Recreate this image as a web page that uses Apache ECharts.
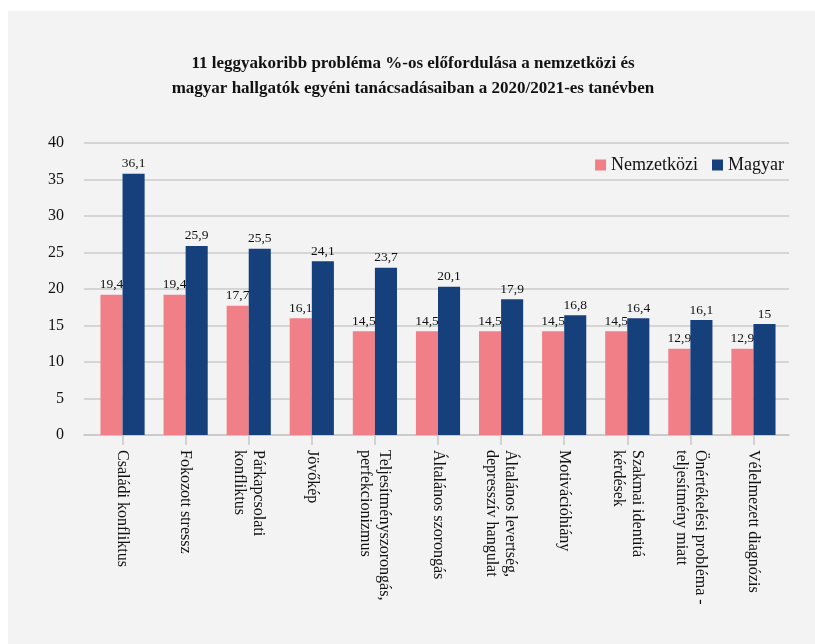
<!DOCTYPE html>
<html>
<head>
<meta charset="utf-8">
<script src="https://cdn.jsdelivr.net/npm/echarts@6/dist/echarts.min.js"></script>
<style>
html,body{margin:0;padding:0;background:#fff;}
#c{width:815px;height:644px;}
</style>
</head>
<body>
<div id="c"></div>
<script>
const categories = [
  "Családi konfliktus",
  "Fokozott stressz",
  "Párkapcsolati\nkonfliktus",
  "Jövőkép",
  "Teljesítményszorongás,\nperfekcionizmus",
  "Általános szorongás",
  "Általános levertség,\ndepresszív hangulat",
  "Motivációhiány",
  "Szakmai identitá\nkérdések",
  "Önértékelési probléma -\nteljesítmény miatt",
  "Vélelmezett diagnózis"
];
// bar heights as drawn in the reference
const nemzetkozi = [19.2, 19.2, 17.7, 16.0, 14.2, 14.2, 14.2, 14.2, 14.2, 11.8, 11.8];
const magyar = [35.8, 25.9, 25.5, 23.8, 22.9, 20.3, 18.6, 16.4, 16.0, 15.75, 15.2];
// data label texts as printed in the reference
const nemzetkoziLabels = ["19,4","19,4","17,7","16,1","14,5","14,5","14,5","14,5","14,5","12,9","12,9"];
const magyarLabels = ["36,1","25,9","25,5","24,1","23,7","20,1","17,9","16,8","16,4","16,1","15"];
const yTicks = [0, 5, 10, 15, 20, 25, 30, 35, 40];

const FONT = '"Liberation Serif", "DejaVu Serif", serif';
const chart = echarts.init(document.getElementById('c'), null, {renderer: 'canvas'});
chart.setOption({
  backgroundColor: '#ffffff',
  animation: false,
  textStyle: {fontFamily: FONT},
  graphic: [{
    type: 'rect', left: 8, top: 11, z: -10,
    shape: {width: 807, height: 633},
    style: {fill: '#f3f3f3'}
  }],
  title: {
    text: '11 leggyakoribb probléma %-os előfordulása a nemzetközi és\nmagyar hallgatók egyéni tanácsadásaiban a 2020/2021-es tanévben',
    left: 408, top: 46, textAlign: 'center',
    textStyle: {fontFamily: FONT, fontSize: 17, fontWeight: 'bold', color: '#111', lineHeight: 25}
  },
  legend: {
    right: 26, top: 151,
    itemWidth: 11, itemHeight: 11, itemGap: 14,
    icon: 'rect',
    textStyle: {fontFamily: FONT, fontSize: 18, color: '#111'},
    data: ['Nemzetközi', 'Magyar']
  },
  grid: [
    {left: 91, right: 30, top: 143, bottom: 209, containLabel: false},
    {left: 84, right: 26, top: 143, bottom: 209, containLabel: false}
  ],
  xAxis: [
    {
      type: 'category', gridIndex: 0,
      data: categories,
      axisLine: {show: false},
      axisTick: {show: true, alignWithLabel: true, length: 10, lineStyle: {color: '#c8c8c8', width: 1.5}},
      axisLabel: {rotate: -90, interval: 0, margin: 15, fontFamily: FONT, fontSize: 16, color: '#111', lineHeight: 19}
    },
    {
      type: 'value', gridIndex: 1, min: 0, max: 1, show: true,
      axisLine: {show: true, onZero: false, lineStyle: {color: '#c8c8c8', width: 1.5}},
      axisTick: {show: false}, axisLabel: {show: false}, splitLine: {show: false}
    }
  ],
  yAxis: [
    {
      type: 'value', gridIndex: 0, min: yTicks[0], max: yTicks[yTicks.length - 1], interval: 5,
      axisLine: {show: false}, axisTick: {show: false}, splitLine: {show: false},
      axisLabel: {show: false}
    },
    {
      type: 'value', gridIndex: 1, min: yTicks[0], max: yTicks[yTicks.length - 1], interval: 5,
      axisLine: {show: false},
      axisTick: {show: false},
      splitLine: {lineStyle: {color: '#cbcbcb', width: 1.5}},
      axisLabel: {margin: 20, fontFamily: FONT, fontSize: 16, color: '#111'}
    }
  ],
  series: [
    {
      name: 'Nemzetközi', type: 'bar', data: nemzetkozi, xAxisIndex: 0, yAxisIndex: 0,
      barGap: '0%', barCategoryGap: '30%', z: 3,
      itemStyle: {color: '#f07f87'},
      label: {show: true, position: 'top', distance: 3, fontFamily: FONT, fontSize: 13.5, color: '#111',
        formatter: p => nemzetkoziLabels[p.dataIndex]}
    },
    {
      name: 'Magyar', type: 'bar', data: magyar, xAxisIndex: 0, yAxisIndex: 0,
      barGap: '0%', barCategoryGap: '30%', z: 3,
      itemStyle: {color: '#15407c'},
      label: {show: true, position: 'top', distance: 3, fontFamily: FONT, fontSize: 13.5, color: '#111',
        formatter: p => magyarLabels[p.dataIndex]}
    }
  ]
});
</script>
</body>
</html>
